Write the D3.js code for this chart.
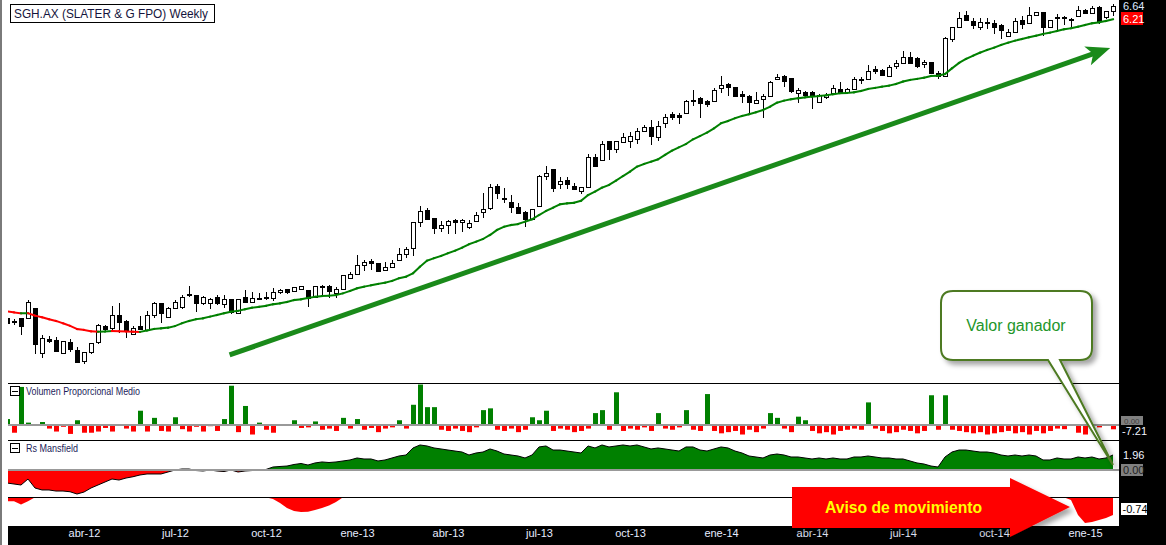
<!DOCTYPE html>
<html><head><meta charset="utf-8">
<script src="https://cdn.jsdelivr.net/npm/d3@7"></script>
<style>
html,body{margin:0;padding:0;background:#fff;overflow:hidden}
svg{display:block}
text{font-family:"Liberation Sans",Arial,sans-serif}
</style></head>
<body><svg id="c" width="1166" height="545"></svg>
<script>
// ---------- DATA (weekly candles, index 0..158) ----------
const opens=[2.048,2.024,2.048,2.048,2.127,1.795,1.893,1.888,1.795,1.876,
1.818,1.744,1.802,1.871,1.989,1.972,2.074,2.028,1.931,1.989,
1.960,2.074,2.167,2.061,2.127,2.135,2.242,2.236,2.167,2.172,
2.221,2.161,2.202,2.087,2.221,2.180,2.204,2.211,2.208,2.259,
2.283,2.273,2.285,2.279,2.221,2.309,2.313,2.250,2.285,2.382,
2.420,2.501,2.545,2.520,2.457,2.482,2.552,2.607,2.666,2.940,
3.080,2.985,2.874,2.907,2.966,2.944,2.885,2.958,3.060,3.099,
3.371,3.218,3.178,3.111,3.060,2.974,3.126,3.500,3.590,3.393,
3.448,3.371,3.312,3.355,3.764,3.718,3.994,3.871,3.984,3.994,
4.024,4.152,4.204,4.058,4.269,4.422,4.405,4.433,4.656,4.691,
4.643,4.643,4.871,4.951,4.889,4.762,4.731,4.614,4.673,4.736,
5.039,5.101,5.058,4.791,4.804,4.804,4.631,4.722,4.780,4.853,
4.804,4.853,5.016,5.039,5.232,5.219,5.107,5.303,5.364,5.486,
5.453,5.338,5.372,5.160,5.107,5.865,6.128,6.419,6.276,6.142,
6.260,6.236,6.182,5.931,6.029,6.300,6.236,6.418,6.485,6.128,
6.339,6.359,6.323,6.394,6.542,6.461,6.623,6.362,6.517];
const highs=[2.060,2.043,2.051,2.194,2.129,1.923,1.916,1.907,1.881,1.895,
1.836,1.804,1.866,2.004,1.997,2.145,2.172,2.035,1.989,2.066,
2.108,2.180,2.170,2.140,2.194,2.235,2.313,2.240,2.227,2.211,
2.236,2.236,2.206,2.202,2.279,2.259,2.255,2.259,2.298,2.283,
2.287,2.304,2.317,2.279,2.317,2.322,2.322,2.307,2.411,2.442,
2.600,2.552,2.558,2.523,2.535,2.552,2.666,2.682,2.944,3.126,
3.099,2.989,2.958,2.961,2.972,2.972,2.966,3.060,3.287,3.397,
3.397,3.342,3.258,3.166,3.063,3.091,3.513,3.635,3.594,3.491,
3.483,3.414,3.358,3.799,3.799,3.994,4.001,4.001,4.111,4.136,
4.189,4.241,4.323,4.312,4.417,4.460,4.433,4.661,4.840,4.714,
4.661,4.877,5.101,4.960,4.895,4.822,4.740,4.798,4.767,5.007,
5.134,5.111,5.063,4.882,4.822,4.813,4.758,4.780,4.932,4.983,
4.867,5.088,5.077,5.317,5.297,5.232,5.317,5.419,5.605,5.591,
5.474,5.419,5.378,5.193,5.915,6.135,6.500,6.517,6.339,6.339,
6.339,6.300,6.194,6.090,6.339,6.394,6.623,6.500,6.492,6.307,
6.437,6.394,6.339,6.648,6.559,6.648,6.628,6.517,6.700];
const lows=[2.000,2.004,1.931,2.047,1.797,1.772,1.872,1.808,1.794,1.813,
1.739,1.729,1.797,1.866,1.960,1.955,1.947,1.907,1.931,1.967,
1.960,2.061,2.018,2.058,2.126,2.133,2.231,2.108,2.165,2.127,
2.165,2.140,2.093,2.086,2.178,2.178,2.200,2.202,2.194,2.257,
2.257,2.270,2.283,2.147,2.219,2.236,2.216,2.221,2.283,2.380,
2.418,2.457,2.463,2.448,2.454,2.480,2.549,2.583,2.600,2.902,
2.974,2.827,2.849,2.827,2.827,2.845,2.883,2.955,3.003,3.097,
3.218,3.178,3.060,3.040,2.899,2.972,3.122,3.461,3.312,3.342,
3.342,3.327,3.280,3.352,3.635,3.714,3.728,3.836,3.979,3.909,
3.960,4.147,3.945,4.009,4.214,4.334,4.280,4.430,4.573,4.377,
4.556,4.638,4.798,4.749,4.731,4.631,4.460,4.608,4.377,4.731,
5.035,4.919,4.804,4.631,4.731,4.517,4.626,4.696,4.776,4.776,
4.798,4.849,4.964,5.035,5.154,5.115,5.101,5.252,5.358,5.358,
5.283,5.283,5.156,5.058,5.101,5.828,6.124,6.292,6.106,6.083,
6.106,6.006,5.880,5.924,6.022,6.106,6.229,6.411,5.953,6.124,
6.051,6.205,6.158,6.387,6.461,6.456,6.236,6.339,6.418];
const closes=[2.010,2.018,1.991,2.180,1.857,1.904,1.883,1.811,1.881,1.823,
1.739,1.802,1.864,1.997,1.969,2.074,2.022,1.952,1.972,1.969,
2.074,2.167,2.087,2.127,2.180,2.221,2.236,2.167,2.216,2.200,
2.167,2.202,2.095,2.200,2.180,2.208,2.208,2.215,2.264,2.279,
2.262,2.302,2.313,2.213,2.316,2.313,2.273,2.285,2.408,2.420,
2.501,2.530,2.520,2.451,2.482,2.520,2.607,2.657,2.940,3.072,
2.977,2.874,2.907,2.958,2.944,2.966,2.929,3.022,3.088,3.355,
3.287,3.206,3.111,3.042,2.977,3.088,3.500,3.536,3.342,3.436,
3.397,3.330,3.355,3.764,3.639,3.945,3.871,3.994,4.050,4.069,
4.152,4.204,4.074,4.225,4.366,4.377,4.366,4.643,4.661,4.614,
4.586,4.840,4.932,4.900,4.736,4.731,4.631,4.661,4.731,4.983,
5.077,5.013,4.827,4.840,4.755,4.731,4.749,4.740,4.871,4.780,
4.858,5.039,5.035,5.203,5.199,5.121,5.283,5.364,5.486,5.364,
5.303,5.384,5.160,5.101,5.880,6.128,6.339,6.300,6.182,6.260,
6.236,6.142,6.068,6.029,6.284,6.205,6.418,6.485,6.142,6.300,
6.378,6.370,6.334,6.542,6.475,6.583,6.284,6.517,6.640];
const movingAvg=[2.102,2.094,2.087,2.088,2.069,2.056,2.041,2.028,2.010,1.991,
1.967,1.960,1.950,1.947,1.949,1.952,1.951,1.949,1.947,1.946,
1.956,1.967,1.972,1.977,1.989,2.010,2.028,2.041,2.048,2.061,
2.074,2.087,2.100,2.106,2.119,2.132,2.139,2.147,2.159,2.167,
2.178,2.194,2.200,2.211,2.221,2.227,2.230,2.236,2.250,2.270,
2.293,2.307,2.319,2.331,2.342,2.358,2.382,2.396,2.427,2.488,
2.545,2.568,2.590,2.617,2.642,2.672,2.707,2.733,2.761,2.803,
2.856,2.891,2.910,2.921,2.947,2.974,3.022,3.068,3.106,3.146,
3.158,3.165,3.189,3.258,3.300,3.350,3.384,3.439,3.500,3.558,
3.626,3.663,3.694,3.728,3.789,3.851,3.900,3.949,4.019,4.069,
4.121,4.189,4.269,4.306,4.350,4.388,4.417,4.451,4.489,4.544,
4.614,4.649,4.673,4.691,4.708,4.719,4.731,4.744,4.762,4.780,
4.785,4.798,4.822,4.858,4.877,4.900,4.919,4.951,4.995,5.026,
5.045,5.069,5.101,5.107,5.140,5.252,5.358,5.439,5.506,5.570,
5.627,5.675,5.733,5.784,5.828,5.865,5.903,5.938,5.977,6.006,
6.045,6.083,6.106,6.142,6.182,6.222,6.245,6.276,6.316];
const volumeProp=[10,-13,64,4,0,5,-6,-11,-3,-15,
8,-13,-13,-11,-5,-11,0,-6,-11,24,
-11,12,-10,-11,13,-7,-11,-3,-11,-2,
-10,10,66,-12,32,-16,4,-8,-13,0,
0,8,-5,-4,6,-8,-6,-10,12,-6,
10,-8,-5,-12,-6,-4,8,-6,34,68,
30,30,-8,-10,-6,-10,-12,-4,25,28,
-8,-10,-6,-12,-8,13,8,24,-10,-6,
-8,-12,-10,-6,20,25,-8,55,-10,-6,
-8,-4,-10,20,-6,-8,-4,25,-8,-10,
52,-10,-14,-12,-10,-16,-8,-12,-6,20,
12,-6,-12,14,8,-10,-14,-12,-16,-10,
-8,-6,-8,38,-6,-10,-14,-12,-8,-10,
-14,-10,50,-8,50,-8,-10,-12,-14,-12,
-16,-14,-12,-10,-14,-12,-16,-10,-14,-10,
-6,-7,0,-13,-16,0,-4,0,-7.21];
const rsMansfield=[-1.70,-1.83,-1.96,-1.18,-2.35,-2.61,-2.61,-2.75,-2.75,-2.84,
-3.14,-2.88,-2.35,-1.96,-1.57,-1.18,-1.31,-1.05,-0.88,-0.65,
-0.52,-0.52,-0.52,-0.26,0.00,0.13,0.13,-0.07,-0.13,0.00,
-0.13,-0.20,0.00,-0.26,-0.13,-0.07,0.00,0.07,0.39,0.46,
0.52,0.72,0.85,0.65,0.92,1.05,0.98,1.05,1.18,1.31,
1.57,1.44,1.44,1.18,1.31,1.57,1.83,1.96,2.88,3.27,
3.14,2.88,2.75,2.61,2.48,2.35,1.96,2.22,2.35,2.75,
2.48,2.09,1.96,1.83,1.57,1.96,3.01,3.14,2.61,2.61,
2.48,2.35,2.22,3.14,2.88,3.27,3.01,3.14,3.27,3.14,
3.27,3.01,2.75,2.88,2.75,2.61,2.48,3.01,3.01,2.61,
2.48,2.75,3.01,2.88,2.48,2.22,1.83,1.70,1.57,1.96,
2.09,1.96,1.70,1.70,1.57,1.44,1.57,1.44,1.57,1.44,
1.44,1.70,1.70,1.83,1.70,1.57,1.57,1.44,1.44,1.18,
0.92,0.78,0.52,0.39,1.70,2.35,2.61,2.61,2.48,2.35,
2.35,2.22,1.96,1.83,1.96,1.83,1.96,1.83,1.31,1.31,
1.57,1.44,1.44,1.70,1.57,1.70,1.44,1.57,1.96];
const rsMomentum=[-0.25,-0.25,-0.45,-0.25,0,0,0,0,0,0,
0,0,0,0,0,0,0,0,0,0,
0,0,0,0,0,0,0,0,0,0,
0,0,0,0,0,0,0,0,-0.11,-0.36,
-0.68,-0.87,-0.93,-0.91,-0.80,-0.68,-0.52,-0.30,0,0,
0,0,0,0,0,0,0,0,0,0,
0,0,0,0,0,0,0,0,0,0,
0,0,0,0,0,0,0,0,0,0,
0,0,0,0,0,0,0,0,0,0,
0,0,0,0,0,0,0,0,0,0,
0,0,0,0,0,0,0,0,0,0,
0,0,0,0,0,0,0,0,0,0,
0,0,0,0,0,0,0,0,0,0,
0,0,0,0,0,0,0,0,0,0,
0,0,0,0,0,0,0,0,0,0,
0,0,-0.17,-1.12,-1.63,-1.56,-1.44,-1.31,-1.12];
const tickIndex=[11,24,37,50,63,76,89,102,115,128,141,154];
const tickLabels=["abr-12","jul-12","oct-12","ene-13","abr-13","jul-13","oct-13","ene-14","abr-14","jul-14","oct-14","ene-15"];
const lastClose="6.64", lastMA="6.21", volLast="-7.21", rsLast="1.96", momLast="-0.74";
const title="SGH.AX (SLATER & G FPO) Weekly";
const panelVol="Volumen Proporcional Medio", panelRs="Rs Mansfield";
const noteWin="Valor ganador", noteWarn="Aviso de movimiento";
// trend arrow anchors: [week index, price]
const trendStart=[31.8,1.784], trendEnd=[157.6,5.67];

// ---------- SCALES ----------
const svg=d3.select("#c");
const n=closes.length;
const x=d3.scaleLinear().domain([0,n-1]).range([7,1113]);
const yP=d3.scaleLog().domain([1.777,6.64]).range([356,6]);
const yV=d3.scaleLinear().domain([0,70.6]).range([425,383]);
const yR=d3.scaleLinear().domain([0,1.96]).range([470,455]);
const yM=d3.scaleLinear().domain([0,-0.74]).range([497.3,509]);
const L=8,R=1119;

const defs=svg.append("defs");
function clip(id,y0,y1){defs.append("clipPath").attr("id",id).append("rect").attr("x",L).attr("y",y0).attr("width",R-L).attr("height",y1-y0);}
clip("cMain",0,383);clip("cVol",384,440);clip("cRs",441,497);clip("cMom",498,526);
const sh=defs.append("filter").attr("id","shadow").attr("x","-20%").attr("y","-20%").attr("width","150%").attr("height","150%");
sh.append("feDropShadow").attr("dx",4).attr("dy",4).attr("stdDeviation",2.5).attr("flood-color","#000").attr("flood-opacity",0.35);

svg.append("rect").attr("width",1166).attr("height",545).attr("fill","#fff");

// ---------- CANDLES ----------
const gMain=svg.append("g").attr("clip-path","url(#cMain)");
const idx=d3.range(n);
const cx=i=>Math.round(x(i));
gMain.selectAll("line.wick").data(idx).join("line").attr("class","wick")
 .attr("x1",i=>cx(i)+0.5).attr("x2",i=>cx(i)+0.5)
 .attr("y1",i=>Math.round(yP(highs[i]))).attr("y2",i=>Math.round(yP(lows[i]))+1)
 .attr("stroke","#000").attr("stroke-width",1);
gMain.selectAll("rect.body").data(idx).join("rect").attr("class","body")
 .attr("x",i=>cx(i)-2+0.5).attr("width",4)
 .attr("y",i=>Math.round(yP(Math.max(opens[i],closes[i])))+0.5)
 .attr("height",i=>Math.max(1,Math.round(yP(Math.min(opens[i],closes[i])))-Math.round(yP(Math.max(opens[i],closes[i])))))
 .attr("fill",i=>closes[i]>=opens[i]?"#fff":"#000").attr("stroke","#000").attr("stroke-width",1);

// moving average coloured by slope
gMain.selectAll("line.ma").data(idx.slice(1)).join("line").attr("class","ma")
 .attr("x1",i=>x(i-1)).attr("x2",i=>x(i))
 .attr("y1",i=>yP(movingAvg[i-1])).attr("y2",i=>yP(movingAvg[i]))
 .attr("stroke",i=>movingAvg[i]<movingAvg[i-1]?"#ff0000":"#008000")
 .attr("stroke-width",2).attr("stroke-linecap","square");

// ---------- VOLUME ----------
const gVol=svg.append("g").attr("clip-path","url(#cVol)");
gVol.selectAll("rect").data(idx).join("rect")
 .attr("x",i=>cx(i)-2).attr("width",5)
 .attr("y",i=>volumeProp[i]>=0?yV(volumeProp[i]):yV(0))
 .attr("height",i=>Math.abs(yV(volumeProp[i])-yV(0)))
 .attr("fill",i=>volumeProp[i]>=0?"#008000":"#ff0000");
svg.append("line").attr("x1",L).attr("x2",R).attr("y1",425).attr("y2",425).attr("stroke","#999").attr("stroke-width",2);

// ---------- RS MANSFIELD ----------
const gRs=svg.append("g").attr("clip-path","url(#cRs)");
const aPos=d3.area().x(i=>x(i)).y0(yR(0)).y1(i=>yR(Math.max(0,rsMansfield[i])));
const aNeg=d3.area().x(i=>x(i)).y0(yR(0)).y1(i=>yR(Math.min(0,rsMansfield[i])));
gRs.append("path").attr("d",aPos(idx)).attr("fill","#008000");
gRs.append("path").attr("d",aNeg(idx)).attr("fill","#ff0000");
gRs.append("path").attr("d",d3.line().x(i=>x(i)).y(i=>yR(rsMansfield[i]))(idx)).attr("fill","none").attr("stroke","#000").attr("stroke-width",1);
svg.append("line").attr("x1",L).attr("x2",R).attr("y1",470).attr("y2",470).attr("stroke","#999").attr("stroke-width",2);
const gMom=svg.append("g").attr("clip-path","url(#cMom)");
gMom.append("path").attr("d",d3.area().x(i=>x(i)).y0(yM(0)).y1(i=>yM(rsMomentum[i]))(idx)).attr("fill","#ff0000");

// separators
[383.5,440.5,497.5].forEach(y=>svg.append("line").attr("x1",L).attr("x2",R).attr("y1",y).attr("y2",y).attr("stroke","#000").attr("stroke-width",1));

// panel labels
function panelLabel(y,txt,len){
 svg.append("rect").attr("x",10.5).attr("y",y-4.5).attr("width",9).attr("height",9).attr("fill","#fff").attr("stroke","#000");
 svg.append("line").attr("x1",12).attr("x2",18).attr("y1",y+0.5).attr("y2",y+0.5).attr("stroke","#000");
 svg.append("text").attr("x",26).attr("y",y+4).attr("font-size",11).attr("fill","#1c1c5a").attr("textLength",len).attr("lengthAdjust","spacingAndGlyphs").text(txt);
}
panelLabel(391,panelVol,114);
panelLabel(448,panelRs,52);

// left border
svg.append("rect").attr("x",0).attr("y",0).attr("width",2).attr("height",545).attr("fill","#7a7a7a");

// ---------- AXIS AREAS ----------
svg.append("rect").attr("x",L).attr("y",526).attr("width",1166-L).attr("height",19).attr("fill","#000");
svg.append("rect").attr("x",R).attr("y",0).attr("width",1166-R).attr("height",545).attr("fill","#000");
const ax=d3.axisBottom(x).tickValues(tickIndex).tickFormat((d,i)=>tickLabels[i]).tickSize(0).tickPadding(2);
const gAx=svg.append("g").attr("transform","translate(0,527)").call(ax);
gAx.select(".domain").remove();
gAx.selectAll("text").attr("fill","#e6ecff").attr("font-size",11).attr("font-family","Liberation Sans, Arial, sans-serif");

// right value labels
const rl=svg.append("g").attr("font-size",11);
rl.append("text").attr("x",1123).attr("y",9.5).attr("fill","#dfe8ff").text(lastClose);
rl.append("rect").attr("x",1121).attr("y",12).attr("width",22).attr("height",13).attr("fill","#ff0000");
rl.append("text").attr("x",1123).attr("y",22.5).attr("fill","#fff").text(lastMA);
rl.append("rect").attr("x",1121).attr("y",416).attr("width",22).attr("height",9).attr("fill","#808080");
rl.append("text").attr("x",1124).attr("y",423.5).attr("font-size",8).attr("fill","#404040").text("0.00");
rl.append("text").attr("x",1122).attr("y",435).attr("fill","#f0f4ff").text(volLast);
rl.append("text").attr("x",1123).attr("y",yR(rsMansfield[n-1])+4).attr("fill","#f0f4ff").text(rsLast);
rl.append("rect").attr("x",1121).attr("y",464).attr("width",22).attr("height",12).attr("fill","#808080");
rl.append("text").attr("x",1123).attr("y",474).attr("fill","#202020").text("0.00");
rl.append("rect").attr("x",1121).attr("y",503).attr("width",26).attr("height",12).attr("fill","#fff");
rl.append("text").attr("x",1122.5).attr("y",513).attr("fill","#000").text(momLast);

// ---------- TITLE ----------
svg.append("rect").attr("x",10.5).attr("y",4.5).attr("width",204).attr("height",18).attr("fill","#fff").attr("stroke","#000");
svg.append("text").attr("x",14).attr("y",18).attr("font-size",12.5).attr("fill","#14143c").attr("textLength",194).attr("lengthAdjust","spacingAndGlyphs").text(title);

// ---------- TREND ARROW ----------
const p0=[x(trendStart[0]),yP(trendStart[1])], p1=[x(trendEnd[0]),yP(trendEnd[1])];
const dx=p1[0]-p0[0], dy=p1[1]-p0[1], len=Math.hypot(dx,dy), ux=dx/len, uy=dy/len;
const back=[p1[0]-ux*20,p1[1]-uy*20];
svg.append("line").attr("x1",p0[0]).attr("y1",p0[1]).attr("x2",back[0]+ux*4).attr("y2",back[1]+uy*4).attr("stroke","#1a8a1a").attr("stroke-width",5);
const head=[p1,[p1[0]-ux*24-uy*10,p1[1]-uy*24+ux*10],[back[0]+ux*2,back[1]+uy*2],[p1[0]-ux*24+uy*10,p1[1]-uy*24-ux*10]];
svg.append("path").attr("d",d3.line()(head)+"Z").attr("fill","#1a8a1a");

// ---------- CALLOUT ----------
const call="M953,291 H1080 Q1092,291 1092,303 V348 Q1092,360 1080,360 H1060 L"+x(n-1)+","+(yR(rsMansfield[n-1])+10)+" L1048,360 H953 Q941,360 941,348 V303 Q941,291 953,291 Z";
svg.append("path").attr("d",call).attr("fill","#fff").attr("stroke","#4d7a22").attr("stroke-width",2).attr("filter","url(#shadow)");
svg.append("text").attr("x",1016).attr("y",331).attr("text-anchor","middle").attr("font-size",16).attr("fill","#23962a").text(noteWin);

// ---------- WARNING ARROW ----------
const warn="M792,487 H1010 V478 L1070,507 L1010,537 V528 H792 Z";
svg.append("path").attr("d",warn).attr("fill","#ff0000").attr("filter","url(#shadow)");
svg.append("text").attr("x",825).attr("y",513).attr("font-size",16).attr("font-weight","bold").attr("fill","#ffff00").attr("textLength",157).attr("lengthAdjust","spacingAndGlyphs").text(noteWarn);
</script>
</body></html>
